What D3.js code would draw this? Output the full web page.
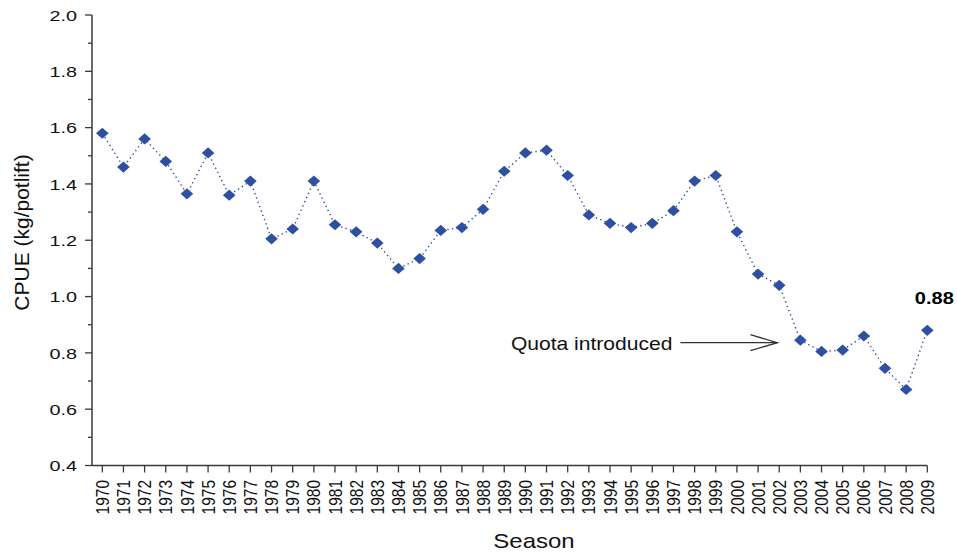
<!DOCTYPE html>
<html>
<head>
<meta charset="utf-8">
<script src="https://cdn.jsdelivr.net/npm/d3@7"></script>
<style>
  html, body { margin: 0; padding: 0; background: #fff; }
  svg { display: block; font-family: "Liberation Sans", Arial, sans-serif; }
</style>
</head>
<body>
<svg id="chart" width="957" height="553"></svg>
<script>
// Season years (x categories)
const seasons = [1970, 1971, 1972, 1973, 1974, 1975, 1976, 1977, 1978, 1979,
                 1980, 1981, 1982, 1983, 1984, 1985, 1986, 1987, 1988, 1989,
                 1990, 1991, 1992, 1993, 1994, 1995, 1996, 1997, 1998, 1999,
                 2000, 2001, 2002, 2003, 2004, 2005, 2006, 2007, 2008, 2009];
// Catch per unit effort, kg per potlift
const cpue = [1.58, 1.46, 1.56, 1.48, 1.365, 1.51, 1.36, 1.41, 1.205, 1.24,
              1.41, 1.255, 1.23, 1.19, 1.10, 1.135, 1.235, 1.245, 1.31, 1.445,
              1.51, 1.52, 1.43, 1.29, 1.26, 1.245, 1.26, 1.305, 1.41, 1.43,
              1.23, 1.08, 1.04, 0.845, 0.805, 0.81, 0.86, 0.745, 0.67, 0.88];
const yMajorTicks = [0.4, 0.6, 0.8, 1.0, 1.2, 1.4, 1.6, 1.8, 2.0];
const yMinorTicks = [0.5, 0.7, 0.9, 1.1, 1.3, 1.5, 1.7, 1.9];
const quotaSeason = 2003;
const quotaLabel = "Quota introduced";

const svg = d3.select("#chart");
const axisColor = "#3a3a3a";
const markColor = "#2f4fa2";

const plotLeft = 92, plotBottom = 465.5, plotTop = 15;
const x = d3.scalePoint().domain(seasons).range([102.3, 927.3]);
const y = d3.scaleLinear().domain([0.4, 2.0]).range([plotBottom, plotTop]);

// horizontally widened text helper
function wideText(g, tx, ty, sx) {
  return g.append("text").attr("transform", `translate(${tx},${ty}) scale(${sx},1)`);
}

// y axis
const yAxis = svg.append("g");
yAxis.append("line").attr("x1", plotLeft).attr("x2", plotLeft)
  .attr("y1", y(2.0)).attr("y2", plotBottom)
  .attr("stroke", axisColor).attr("stroke-width", 1.5);
yAxis.selectAll("line.major").data(yMajorTicks).join("line").attr("class", "major")
  .attr("x1", plotLeft - 7).attr("x2", plotLeft).attr("y1", d => y(d)).attr("y2", d => y(d))
  .attr("stroke", axisColor).attr("stroke-width", 1.3);
yAxis.selectAll("line.minor").data(yMinorTicks).join("line").attr("class", "minor")
  .attr("x1", plotLeft - 4).attr("x2", plotLeft).attr("y1", d => y(d)).attr("y2", d => y(d))
  .attr("stroke", axisColor).attr("stroke-width", 1.3);
yMajorTicks.forEach(v => {
  wideText(yAxis, 77, y(v) + 5.8, 1.28)
    .attr("text-anchor", "end").attr("font-size", 15.5).attr("fill", "#111")
    .text(d3.format(".1f")(v));
});

// x axis
const xAxis = svg.append("g");
xAxis.append("line").attr("x1", plotLeft).attr("x2", x(seasons[seasons.length - 1]))
  .attr("y1", plotBottom).attr("y2", plotBottom)
  .attr("stroke", axisColor).attr("stroke-width", 1.5);
xAxis.selectAll("line.tick").data(seasons).join("line").attr("class", "tick")
  .attr("x1", d => x(d)).attr("x2", d => x(d))
  .attr("y1", plotBottom).attr("y2", plotBottom + 7)
  .attr("stroke", axisColor).attr("stroke-width", 1.3);
xAxis.selectAll("text").data(seasons).join("text")
  .attr("transform", d => `translate(${x(d)},480) rotate(-90) scale(1,1.18)`)
  .attr("text-anchor", "end").attr("dy", "0.36em")
  .attr("font-size", 15.5).attr("fill", "#111")
  .text(d => d);

// axis titles
wideText(svg, 534, 548, 1.2).attr("text-anchor", "middle")
  .attr("font-size", 20).attr("fill", "#111").text("Season");
svg.append("text")
  .attr("transform", `translate(29,232.5) rotate(-90)`)
  .attr("text-anchor", "middle").attr("font-size", 21).attr("fill", "#111")
  .text("CPUE (kg/potlift)");

// dotted connecting line
const pts = seasons.map((s, i) => [x(s), y(cpue[i])]);
svg.append("path")
  .attr("d", d3.line()(pts))
  .attr("fill", "none").attr("stroke", markColor)
  .attr("stroke-width", 1.4).attr("stroke-dasharray", "1.4,3.2");

// diamond markers
svg.append("g").selectAll("path").data(pts).join("path")
  .attr("d", ([px, py]) => `M${px},${py - 5.6}L${px + 6.3},${py}L${px},${py + 5.6}L${px - 6.3},${py}Z`)
  .attr("fill", markColor);

// value label on the latest season
const lastIdx = cpue.length - 1;
wideText(svg, x(seasons[lastIdx]) + 7, y(cpue[lastIdx]) - 26, 1.25)
  .attr("text-anchor", "middle").attr("font-size", 16).attr("font-weight", "bold")
  .attr("fill", "#000").text(d3.format(".2f")(cpue[lastIdx]));

// quota annotation with open arrow
const qi = seasons.indexOf(quotaSeason);
const tipX = x(quotaSeason) - 23, tipY = y(cpue[qi]) + 2.5;
const ann = svg.append("g").attr("stroke", "#333").attr("stroke-width", 1.3).attr("fill", "none");
ann.append("line").attr("x1", tipX - 97).attr("x2", tipX).attr("y1", tipY).attr("y2", tipY);
ann.append("path").attr("d", `M${tipX - 27},${tipY - 8}L${tipX},${tipY}L${tipX - 27},${tipY + 8}`);
wideText(svg, tipX - 105, tipY + 7, 1.17)
  .attr("text-anchor", "end").attr("font-size", 18).attr("fill", "#111")
  .text(quotaLabel);
</script>
</body>
</html>
